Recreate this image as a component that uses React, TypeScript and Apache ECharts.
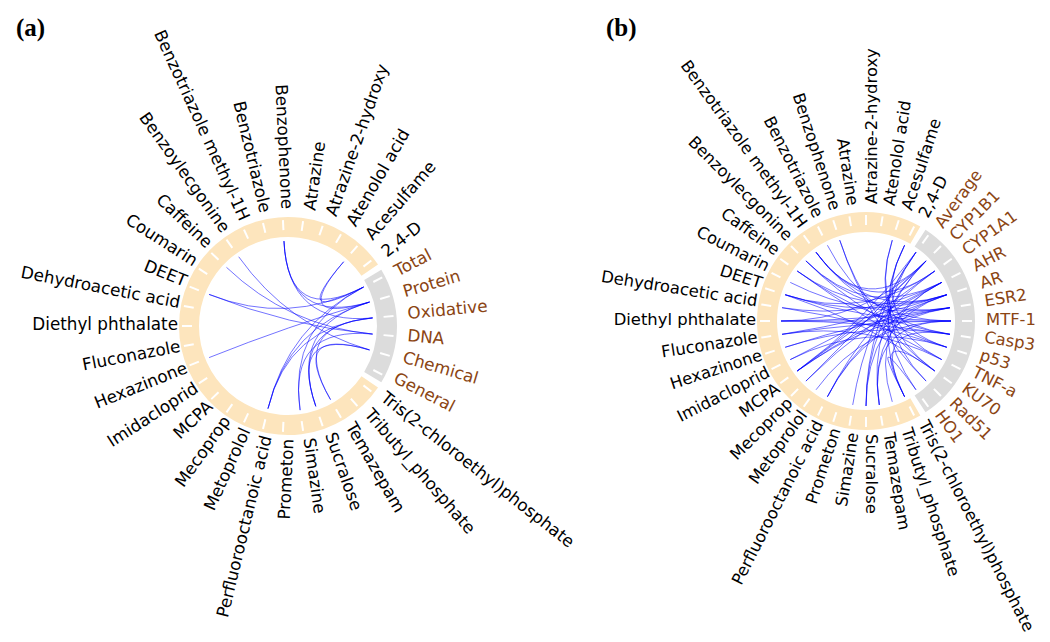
import React, { useEffect, useRef } from "react";
import * as echarts from "echarts";

// ---------- data ----------
const chemicals = [
  "2,4-D", "Acesulfame", "Atenolol acid", "Atrazine-2-hydroxy", "Atrazine",
  "Benzophenone", "Benzotriazole", "Benzotriazole methyl-1H", "Benzoylecgonine",
  "Caffeine", "Coumarin", "DEET", "Dehydroacetic acid", "Diethyl phthalate",
  "Fluconazole", "Hexazinone", "Imidacloprid", "MCPA", "Mecoprop", "Metoprolol",
  "Perfluorooctanoic acid", "Prometon", "Simazine", "Sucralose", "Temazepam",
  "Tributyl_phosphate", "Tris(2-chloroethyl)phosphate",
];

const endpointsA = ["Total", "Protein", "Oxidative", "DNA", "Chemical", "General"];
const endpointsB = [
  "Average", "CYP1B1", "CYP1A1", "AHR", "AR", "ESR2", "MTF-1",
  "Casp3", "p53", "TNF-a", "KU70", "Rad51", "HO1",
];

const linksA: [string, string][] = [
  ["Acesulfame", "Total"], ["Acesulfame", "Protein"],
  ["Benzophenone", "Total"], ["Benzophenone", "Protein"], ["Benzophenone", "Oxidative"],
  ["Benzoylecgonine", "Chemical"],
  ["Caffeine", "DNA"],
  ["DEET", "Total"], ["DEET", "DNA"],
  ["Hexazinone", "Protein"],
  ["Perfluorooctanoic acid", "Total"], ["Perfluorooctanoic acid", "Protein"], ["Perfluorooctanoic acid", "Oxidative"],
  ["Simazine", "Total"], ["Simazine", "DNA"],
  ["Sucralose", "Protein"], ["Sucralose", "Oxidative"], ["Sucralose", "Chemical"],
  ["Temazepam", "Oxidative"], ["Temazepam", "Chemical"],
];

const linksB: [string, string][] = [
  ["2,4-D", "HO1"], ["2,4-D", "Rad51"], ["2,4-D", "p53"],
  ["Acesulfame", "KU70"], ["Acesulfame", "TNF-a"],
  ["Benzophenone", "Rad51"], ["Benzophenone", "KU70"],
  ["Benzotriazole", "Casp3"],
  ["Benzotriazole methyl-1H", "CYP1B1"], ["Benzotriazole methyl-1H", "CYP1A1"], ["Benzotriazole methyl-1H", "AR"], ["Benzotriazole methyl-1H", "MTF-1"],
  ["Benzoylecgonine", "AHR"], ["Benzoylecgonine", "ESR2"], ["Benzoylecgonine", "p53"],
  ["Caffeine", "AR"], ["Caffeine", "Casp3"], ["Caffeine", "TNF-a"],
  ["Coumarin", "ESR2"],
  ["DEET", "CYP1A1"], ["DEET", "AR"], ["DEET", "MTF-1"], ["DEET", "KU70"],
  ["Dehydroacetic acid", "AHR"], ["Dehydroacetic acid", "p53"],
  ["Diethyl phthalate", "CYP1B1"], ["Diethyl phthalate", "ESR2"], ["Diethyl phthalate", "MTF-1"], ["Diethyl phthalate", "Casp3"],
  ["Fluconazole", "AR"], ["Fluconazole", "MTF-1"], ["Fluconazole", "TNF-a"],
  ["Hexazinone", "ESR2"], ["Hexazinone", "Casp3"],
  ["Imidacloprid", "AHR"], ["Imidacloprid", "p53"],
  ["MCPA", "Average"], ["MCPA", "CYP1B1"], ["MCPA", "CYP1A1"], ["MCPA", "AR"], ["MCPA", "ESR2"],
  ["Mecoprop", "CYP1B1"], ["Mecoprop", "AHR"],
  ["Metoprolol", "MTF-1"],
  ["Perfluorooctanoic acid", "CYP1A1"], ["Perfluorooctanoic acid", "AR"], ["Perfluorooctanoic acid", "ESR2"],
  ["Simazine", "Average"],
  ["Sucralose", "Average"], ["Sucralose", "CYP1B1"], ["Sucralose", "AHR"],
  ["Temazepam", "CYP1B1"], ["Temazepam", "AR"], ["Temazepam", "MTF-1"],
  ["Tributyl_phosphate", "AHR"],
  ["Tris(2-chloroethyl)phosphate", "Average"], ["Tris(2-chloroethyl)phosphate", "Casp3"],
  ["Tris(2-chloroethyl)phosphate", "KU70"], ["Tris(2-chloroethyl)phosphate", "HO1"],
];

// ---------- styling ----------
const BEIGE = "#FDE5BD";
const GRAY = "#DCDCDC";
const BROWN = "#8B4513";
const CHORD = "rgba(0,0,255,0.55)";
const FONT = "DejaVu Sans";

const RING_IN = 89;
const RING_OUT = 109;
const TICK_IN = 96;
const TICK_OUT = 106;
const CHORD_R = 85;
const LABEL_R = 115;
const LABEL_DX = 5;
const LABEL_DY = -2;
const GAP = 1.6; // half gap between groups (deg)

function layout(endpoints: string[], chems: string[]) {
  const order = [...endpoints].reverse().concat(chems); // counter-clockwise order
  const n = order.length;
  const step = 360 / n;
  const start = -((endpoints.length - 1) / 2) * step;
  const angle: Record<string, number> = {};
  order.forEach((name, i) => (angle[name] = start + i * step));
  return { order, step, angle };
}

function buildSeries(polarIndex: number, endpoints: string[], links: [string, string][], fontSize: number) {
  const L = layout(endpoints, chemicals);
  const epSet = new Set(endpoints);
  const half = L.step / 2 - GAP;
  const groups = [
    [RING_OUT, L.angle[endpoints[endpoints.length - 1]] - half, L.angle[endpoints[0]] + half, 1],
    [RING_OUT, L.angle[chemicals[0]] - half, L.angle[chemicals[chemicals.length - 1]] + half, 0],
  ];
  const ring = {
    type: "custom",
    coordinateSystem: "polar",
    polarIndex,
    silent: true,
    data: groups,
    renderItem: (params: any, api: any) => {
      const c = api.coord([0, 0]);
      const a1 = api.value(1);
      const a2 = api.value(2);
      const r = api.coord([RING_OUT, 0])[0] - c[0];
      const r0 = api.coord([RING_IN, 0])[0] - c[0];
      return {
        type: "sector",
        shape: {
          cx: c[0], cy: c[1], r, r0,
          startAngle: (-a2 * Math.PI) / 180,
          endAngle: (-a1 * Math.PI) / 180,
          clockwise: true,
        },
        style: { fill: api.value(3) === 1 ? GRAY : BEIGE },
      };
    },
  };
  const nodes = {
    type: "custom",
    coordinateSystem: "polar",
    polarIndex,
    silent: true,
    data: L.order.map((name) => [LABEL_R, L.angle[name]]),
    renderItem: (params: any, api: any) => {
      const name = L.order[params.dataIndex];
      const a = api.value(1);
      const norm = ((a % 360) + 360) % 360;
      const right = norm <= 90.01 || norm >= 269.99;
      const t0 = api.coord([TICK_IN, a]);
      const t1 = api.coord([TICK_OUT, a]);
      const p = api.coord([LABEL_R, a]);
      const rad = (a * Math.PI) / 180;
      return {
        type: "group",
        children: [
          {
            type: "line",
            shape: { x1: t0[0], y1: t0[1], x2: t1[0], y2: t1[1] },
            style: { stroke: "#ffffff", lineWidth: 2 },
          },
          {
            type: "text",
            x: p[0] + LABEL_DX,
            y: p[1] + LABEL_DY,
            rotation: right ? rad : rad - Math.PI,
            style: {
              text: name,
              align: right ? "left" : "right",
              verticalAlign: "middle",
              fontSize,
              fontFamily: FONT,
              fill: epSet.has(name) ? BROWN : "#000000",
            },
          },
        ],
      };
    },
  };
  const chords = {
    type: "custom",
    coordinateSystem: "polar",
    polarIndex,
    silent: true,
    data: links.map(([s, t]) => [CHORD_R, L.angle[s], L.angle[t]]),
    renderItem: (params: any, api: any) => {
      const p1 = api.coord([CHORD_R, api.value(1)]);
      const p2 = api.coord([CHORD_R, api.value(2)]);
      const c = api.coord([0, 0]);
      return {
        type: "bezierCurve",
        shape: { x1: p1[0], y1: p1[1], x2: p2[0], y2: p2[1], cpx1: c[0], cpy1: c[1] },
        style: { stroke: CHORD, lineWidth: 1, fill: null },
      };
    },
  };
  return [ring, chords, nodes];
}

export default function App() {
  const ref = useRef<HTMLDivElement>(null);
  useEffect(() => {
    if (!ref.current) return;
    const chart = echarts.init(ref.current, undefined, { renderer: "svg" });
    const angleAxis = (polarIndex: number) => ({
      polarIndex, type: "value", min: 0, max: 360, startAngle: 0, clockwise: false, show: false,
    });
    const radiusAxis = (polarIndex: number) => ({
      polarIndex, type: "value", min: 0, max: 130, show: false,
    });
    chart.setOption({
      animation: false,
      backgroundColor: "#ffffff",
      polar: [
        { center: [288, 326], radius: 130 },
        { center: [866, 321], radius: 130 },
      ],
      angleAxis: [angleAxis(0), angleAxis(1)],
      radiusAxis: [radiusAxis(0), radiusAxis(1)],
      graphic: [
        { type: "text", left: 16, top: 15, style: { text: "(a)", font: 'bold 25px "Liberation Serif"', fill: "#000" } },
        { type: "text", left: 606, top: 15, style: { text: "(b)", font: 'bold 25px "Liberation Serif"', fill: "#000" } },
      ],
      series: [
        ...buildSeries(0, endpointsA, linksA, 16.8),
        ...buildSeries(1, endpointsB, linksB, 16.4),
      ],
    });
    return () => chart.dispose();
  }, []);
  return <div ref={ref} style={{ width: 1050, height: 642, position: "absolute", left: 0, top: 0 }} />;
}
